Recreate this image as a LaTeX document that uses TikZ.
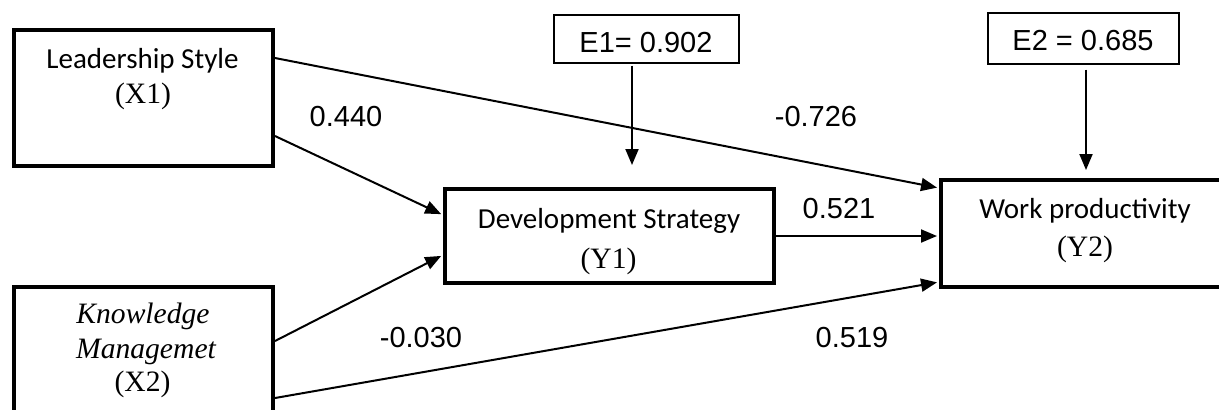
\documentclass[tikz,border=0pt]{standalone}
\usepackage{fontspec}
\setmainfont{Liberation Serif}
\newfontfamily\calibrif{Carlito}
\newfontfamily\arialf{Liberation Sans}
\usetikzlibrary{arrows.meta}
\begin{document}
\begin{tikzpicture}[x=0.5pt,y=-0.5pt,
  varbox/.style={draw,line width=2pt,inner sep=0pt},
  errbox/.style={draw,line width=0.7pt,inner sep=0pt},
  vartitle/.style={anchor=base,inner sep=0pt,font=\calibrif\fontsize{14.5}{17}\selectfont},
  varcode/.style={anchor=base,inner sep=0pt,font=\fontsize{14.8}{17}\selectfont},
  coef/.style={anchor=base,inner sep=0pt,font=\arialf\fontsize{14.5}{17}\selectfont},
  effect/.style={line width=1pt,-{Triangle[length=8pt,width=6.5pt]}}]
  \useasboundingbox (0,0) rectangle (1219,409);
  % variable boxes (Y2 and X2 run past the edge)
  \node[varbox,minimum width=129.5pt,minimum height=68pt] (X1) at (143.5,98) {};
  \node[varbox,minimum width=129.5pt,minimum height=68pt] (X2) at (143.5,355) {};
  \node[varbox,minimum width=164.5pt,minimum height=47pt] (Y1) at (609.5,236) {};
  \node[varbox,minimum width=144pt,minimum height=53.5pt] (Y2) at (1085,233.5) {};
  % error terms
  \node[errbox,minimum width=92.5pt,minimum height=24pt] (E1) at (646.5,39) {};
  \node[errbox,minimum width=95.5pt,minimum height=25.5pt] (E2) at (1083.5,38.5) {};
  \node[coef] (E1txt) at (646,52) {E1= 0.902};
  \node[coef] (E2txt) at (1083,50) {E2 = 0.685};
  % box texts
  \node[vartitle] (X1name) at (142.5,68) {Leadership Style};
  \node[varcode] (X1code) at (143,103) {(X1)};
  \node[varcode,font=\itshape\fontsize{14.8}{17}\selectfont] (X2nameA) at (143,323) {Knowledge};
  \node[varcode,font=\itshape\fontsize{14.8}{17}\selectfont] (X2nameB) at (146,358) {Managemet};
  \node[varcode] (X2code) at (142.5,391) {(X2)};
  \node[vartitle] (Y1name) at (609,228) {Development Strategy};
  \node[varcode] (Y1code) at (608.5,268) {(Y1)};
  \node[vartitle] (Y2name) at (1085,218) {Work productivity};
  \node[varcode] (Y2code) at (1085,256) {(Y2)};
  % paths
  \draw[effect,shorten >=1pt] ([yshift=20pt]X1.east) -- ([yshift=22.75pt]Y2.west);
  \draw[effect,shorten >=1pt] ([yshift=-19pt]X1.east) -- ([yshift=10.5pt]Y1.west);
  \draw[effect,shorten >=1pt] ([yshift=7pt]X2.east) -- ([yshift=-9.5pt]Y1.west);
  \draw[effect,shorten >=1pt] ([yshift=-21.5pt]X2.east) -- ([yshift=-24.25pt]Y2.west);
  \draw[effect,shorten >=1pt] (Y1.east) -- (Y1.east -| Y2.west);
  \draw[effect,shorten <=1pt,shorten >=11pt] ([xshift=-7.25pt]E1.south) -- ([xshift=-7.25pt]E1.south |- Y1.north);
  \draw[effect,shorten <=2.5pt,shorten >=4pt] ([xshift=1.25pt]E2.south) -- ([xshift=1.25pt]E2.south |- Y2.north);
  % coefficients
  \node[coef] (c1) at (346,126) {0.440};
  \node[coef] (c2) at (816,126) {-0.726};
  \node[coef] (c3) at (839,218) {0.521};
  \node[coef] (c4) at (421,347) {-0.030};
  \node[coef] (c5) at (852,347) {0.519};
\end{tikzpicture}
\end{document}
